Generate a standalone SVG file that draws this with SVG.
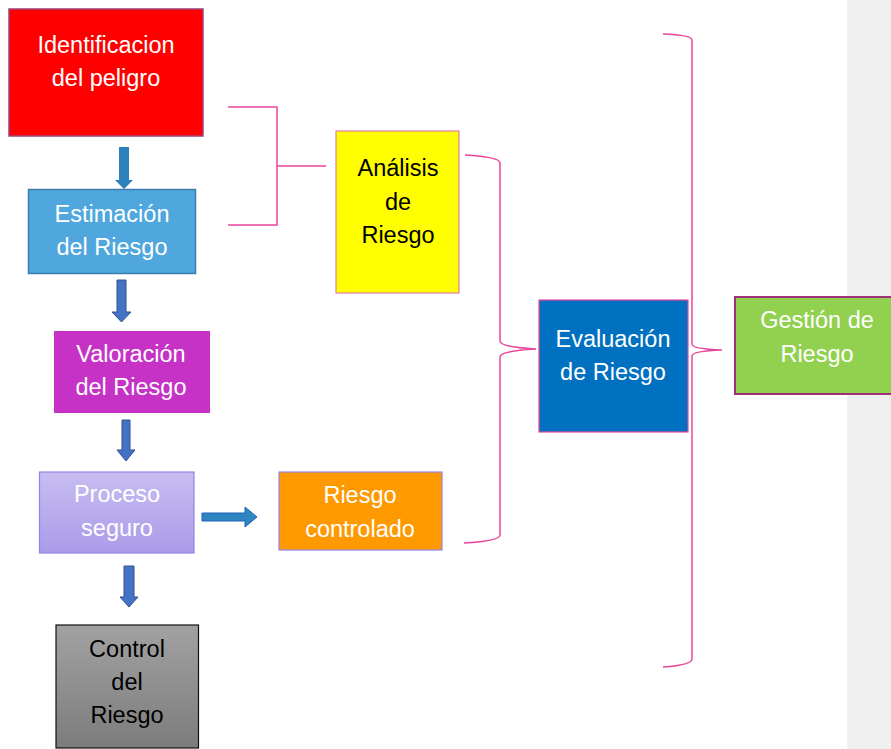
<svg xmlns="http://www.w3.org/2000/svg" width="891" height="749" viewBox="0 0 891 749">
<defs>
<linearGradient id="gProc" x1="0" y1="0" x2="0" y2="1"><stop offset="0" stop-color="#c8bdf2"/><stop offset="1" stop-color="#aa9be8"/></linearGradient>
<linearGradient id="gCtrl" x1="0" y1="0" x2="0" y2="1"><stop offset="0" stop-color="#a2a2a2"/><stop offset="1" stop-color="#7c7c7c"/></linearGradient>
<style>
text{font-family:"Liberation Sans",Arial,sans-serif;font-size:23.5px;text-anchor:middle}
.w{fill:#ffffff}.k{fill:#000000}
.br{fill:none;stroke:#e8469c;stroke-width:1.5}
.ar{fill:#4472c4;stroke:#2f528f;stroke-width:1}
</style>
</defs>
<rect x="847" y="0" width="44" height="749" fill="#f0f0f0"/>
<g id="connectors">
<path class="br" d="M228,107 H277 V225 H228 M277,166 H326"/>
<path class="br" d="M465,155 Q500,157 500,163 V341 Q500,347 536,349 Q500,351 500,357 V535 Q500,541 464,543"/>
<path class="br" d="M663,34 Q692,35 692,40 V344 Q692,349 722,350 Q692,351 692,356 V659 Q692,665 663,667"/>
<polygon fill="#2a81bb" points="119,147 129,147 129,180 133,180 124,189 115,180 119,180"/>
<polygon class="ar" points="117,280 126,280 126,312 131,312 121.5,322 112,312 117,312"/>
<polygon class="ar" points="122,420 130,420 130,450 135,450 126,461 117,450 122,450"/>
<polygon fill="#2e86c1" stroke="#2060b8" stroke-width="1" points="202,513 245,513 245,507 257,517 245,527 245,521 202,521"/>
<polygon class="ar" points="124,566 134,566 134,597 138,597 129,607 120,597 124,597"/>
</g>
<g id="identificacion">
<rect x="9" y="9" width="194" height="127" fill="#ff0000" stroke="#a0407a" stroke-width="1.5"/>
<text class="w" x="106" y="53">Identificacion</text>
<text class="w" x="106" y="86">del peligro</text>
</g>
<g id="estimacion">
<rect x="28.5" y="189.5" width="167" height="84" fill="#4fa7dd" stroke="#3a7fb0" stroke-width="1.5"/>
<text class="w" x="112" y="222">Estimación</text>
<text class="w" x="112" y="255">del Riesgo</text>
</g>
<g id="analisis">
<rect x="336" y="131" width="123" height="162" fill="#ffff00" stroke="#e878a8" stroke-width="1.2"/>
<text class="k" x="398" y="176">Análisis</text>
<text class="k" x="398" y="210">de</text>
<text class="k" x="398" y="243">Riesgo</text>
</g>
<g id="valoracion">
<rect x="54" y="331" width="156" height="82" fill="#c632c6"/>
<text class="w" x="131" y="362">Valoración</text>
<text class="w" x="131" y="395">del Riesgo</text>
</g>
<g id="evaluacion">
<rect x="539" y="300" width="149" height="132" fill="#0070c0" stroke="#e8469c" stroke-width="1.2"/>
<text class="w" x="613" y="347">Evaluación</text>
<text class="w" x="613" y="380">de Riesgo</text>
</g>
<g id="gestion">
<rect x="735" y="297" width="160" height="97" fill="#92d050" stroke="#a0307a" stroke-width="2"/>
<text class="w" x="817" y="328">Gestión de</text>
<text class="w" x="817" y="362">Riesgo</text>
</g>
<g id="proceso">
<rect x="39.5" y="472" width="154.5" height="81" fill="url(#gProc)" stroke="#9385e4" stroke-width="1.2"/>
<text class="w" x="117" y="502">Proceso</text>
<text class="w" x="117" y="536">seguro</text>
</g>
<g id="controlado">
<rect x="279" y="472" width="163" height="78" fill="#ff9900" stroke="#9385e4" stroke-width="1.2"/>
<text class="w" x="360" y="503">Riesgo</text>
<text class="w" x="360" y="537">controlado</text>
</g>
<g id="control">
<rect x="56" y="625" width="142.5" height="123" fill="url(#gCtrl)" stroke="#111111" stroke-width="1.2"/>
<text class="k" x="127" y="657">Control</text>
<text class="k" x="127" y="690">del</text>
<text class="k" x="127" y="723">Riesgo</text>
</g>
</svg>
